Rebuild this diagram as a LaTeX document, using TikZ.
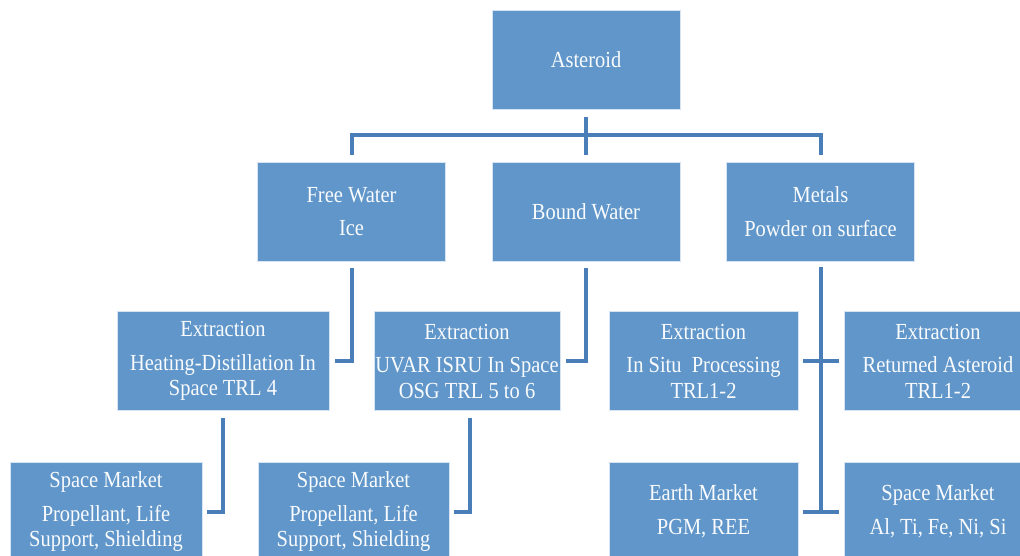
\documentclass[tikz,border=0pt]{standalone}
\usepackage{fontspec}
\setmainfont{Liberation Serif}[FakeStretch=0.89]
\definecolor{boxblue}{HTML}{6096C9}
\definecolor{linkblue}{HTML}{4A7EB8}
\tikzset{
  box/.style={shape=rectangle, fill=boxblue, draw=white!75!boxblue, line width=0.8pt,
    text=white!96!boxblue, align=center, minimum width=188pt, minimum height=99pt,
    inner sep=0pt, font=\fontsize{23}{25.5}\selectfont},
  link/.style={draw=linkblue, line width=4pt}
}
\begin{document}
\begin{tikzpicture}[x=1pt, y=-1pt]
            \useasboundingbox (0,0) rectangle (1020,556);
            \clip (0,0) rectangle (1020,556);

            % top levels
            \node[box] (ast) at (586, 60){Asteroid};
            \node[box] (fw) at (351.5, 211.5){Free Water\\[8pt]Ice};
            \node[box] (bw) at (586, 211.5){Bound Water};
            \node[box] (met) at (820.5, 211.5){Metals\\[8pt]Powder on surface};

            % extraction
            \node[box, minimum width=212pt] (exh) at (223, 361){Extraction\\[8pt]Heating-Distillation In\\Space TRL 4};
            \node[box, minimum width=186pt] (exu) at (467, 361){Extraction\\[8pt]UVAR ISRU In Space\\OSG TRL 5 to 6};
            \node[box, minimum width=189pt] (exs) at (703.5, 361){Extraction\\[8pt]In Situ\ \ Processing\\TRL1-2};
            \node[box] (exr) at (938, 361){Extraction\\[8pt]Returned Asteroid\\TRL1-2};

            % markets
            \node[box, minimum width=192pt] (smh) at (106, 511.5){Space Market\\[8pt]Propellant, Life\\Support, Shielding};
            \node[box, minimum width=191pt] (smu) at (353.5, 511.5){Space Market\\[8pt]Propellant, Life\\Support, Shielding};
            \node[box, minimum width=189pt] (em) at (703.5, 511.5){Earth Market\\[8pt]PGM, REE};
            \node[box] (smm) at (938, 511.5){Space Market\\[8pt]Al, Ti, Fe, Ni, Si};

            \path[link] ([yshift=-7pt]ast.south) -- ([yshift=7pt]bw.north);
            \path[link] ([yshift=7pt]fw.north) -- ++(0,-20) -| ([yshift=7pt]met.north);

            \path[link] ([yshift=-7pt]fw.south) |- ([xshift=6pt]exh.east);
            \path[link] ([yshift=-7pt]bw.south) |- ([xshift=6pt]exu.east);
            \path[link] ([yshift=-7pt]exh.south) |- ([xshift=5pt]smh.east);
            \path[link] ([xshift=3pt, yshift=-7pt]exu.south) |- ([xshift=5pt]smu.east);

            \path[link] ([yshift=-6pt]met.south) -- (met.south |- em.east);
            \path[link] ([xshift=5pt]exs.east) -- ([xshift=-5pt]exr.west);
            \path[link] ([xshift=5pt]em.east) -- ([xshift=-5pt]smm.west);
        \end{tikzpicture}
\end{document}
